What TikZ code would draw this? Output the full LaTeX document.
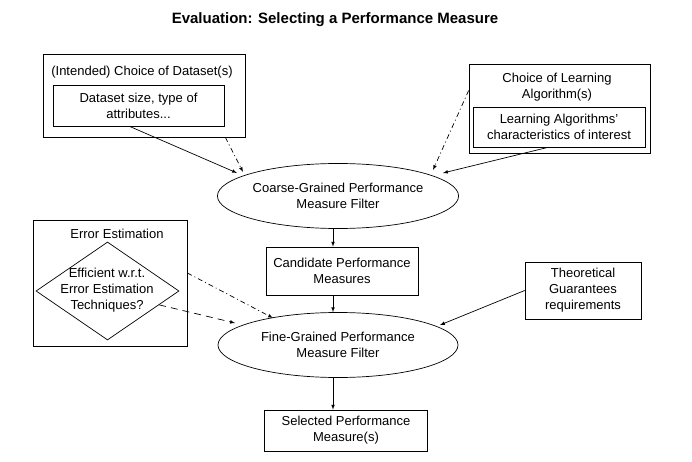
\documentclass[tikz,border=0pt]{standalone}
\usepackage{fontspec}
\setmainfont{Liberation Sans}
\usetikzlibrary{shapes.geometric}

\begin{document}
\begin{tikzpicture}[x = 1pt, y = -1pt, >= latex, line width = 0.7pt,
        font = \fontsize{13}{16}\selectfont,
        box/.style = {draw, inner sep = 0, align = center},
        filter/.style = {draw, ellipse, inner sep = 0, align = center, minimum width = 240pt, minimum height = 65pt},
        dashdot/.style = {dash pattern = on 5pt off 3pt on 1pt off 3pt},
        longdash/.style = {dash pattern = on 7pt off 5pt}]
        \useasboundingbox (0, 0) rectangle (692, 462);
        \node (title) at (335, 20) {\fontsize{15}{17}\selectfont\bfseries Evaluation: Selecting a Performance Measure};
        % dataset and algorithm inputs
        \node (dsouter) at (144, 95.5) [box, minimum width = 202pt, minimum height = 83pt] {};
        \node (dslabel) at (142, 72) {(Intended) Choice of Dataset(s)};
        \node (dsinner) at (138.5, 105.5) [box, minimum width = 171pt, minimum height = 41pt] {Dataset size, type of\\attributes...};
        \node (algouter) at (559.5, 108.5) [box, minimum width = 181pt, minimum height = 89pt] {};
        \node (alglabel) at (557, 87) [align = center] {Choice of Learning\\Algorithm(s)};
        \node (alginner) at (559, 127) [box, minimum width = 172pt, minimum height = 40pt] {Learning Algorithms'\\characteristics of interest};
        % filters
        \node (coarse) at (338, 196) [filter] {Coarse-Grained Performance\\Measure Filter};
        \node (cand) at (342, 271) [box, minimum width = 152pt, minimum height = 48pt] {Candidate Performance\\Measures};
        \node (fine) at (338, 345) [filter] {Fine-Grained Performance\\Measure Filter};
        \node (sel) at (346, 430.5) [box, minimum width = 163pt, minimum height = 41pt] {Selected Performance\\Measure(s)};
        \node (theo) at (583, 290.5) [box, minimum width = 116pt, minimum height = 57pt] {Theoretical\\Guarantees\\requirements};
        % error estimation
        \node (errbox) at (110, 283) [box, minimum width = 154pt, minimum height = 126pt] {};
        \node (errlabel) at (117, 234) {Error Estimation};
        \node (diam) at (107.5, 291) [draw, diamond, inner sep = 0, minimum width = 143pt, minimum height = 98pt] {};
        \node (diamtext) at (107, 290) [align = center] {Efficient w.r.t.\\Error Estimation\\Techniques?};
        % arrow tips on the filters
        \coordinate (dstip) at ([shift = {(-101, -23)}]coarse.center);
        \coordinate (dsdtip) at ([shift = {(-95, -24)}]coarse.center);
        \coordinate (algtip) at ([shift = {(105, -23)}]coarse.center);
        \coordinate (algdtip) at ([shift = {(95, -26)}]coarse.center);
        \coordinate (errdtip) at ([shift = {(-65, -27)}]fine.center);
        \coordinate (diamtip) at ([shift = {(-103, -22)}]fine.center);
        \coordinate (theotip) at ([shift = {(102, -20)}]fine.center);
        % connectors
        \draw[->] ([xshift = -9pt]dsinner.south) -- (dstip);
        \draw[->, dashdot] ([xshift = -20pt]dsouter.south east) -- (dsdtip);
        \draw[->] ([xshift = -11pt]alginner.south) -- (algtip);
        \draw[->, dashdot] ([yshift = 18pt]algouter.west) -- (algdtip);
        \draw[->] (coarse.south -| cand.north) ++(-9, 0) coordinate (c1) -- (c1 |- cand.north);
        \draw[->] ([xshift = -9pt]cand.south) -- (fine.north -| c1);
        \draw[->] (fine.south -| c1) -- (c1 |- sel.north);
        \draw[->, dashdot] ([yshift = 10pt]errbox.east) -- (errdtip);
        \draw[->, longdash] (diam.-15) -- (diamtip);
        \draw[->] (theo.west) -- (theotip);
    \end{tikzpicture}
\end{document}
